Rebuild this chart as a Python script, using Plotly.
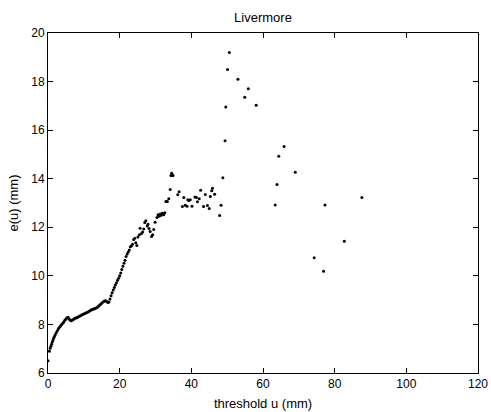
import plotly.graph_objects as go

# Mean residual life plot values (threshold u, e(u))
u_vals = [
    0.0, 0.4, 0.6, 0.8, 1.0, 1.2, 1.4, 1.6, 1.8, 2.0, 2.3, 2.6, 2.9, 3.2, 3.5, 3.8, 4.1, 4.4, 4.7, 5.0, 5.3, 5.6,
    5.9, 6.2, 6.5, 6.8, 7.1, 7.4, 7.7, 8.0, 8.3, 8.6, 8.9, 9.2, 9.5, 9.8, 10.1, 10.4, 10.7, 11.0, 11.3, 11.6, 11.9,
    12.2, 12.5, 12.8, 13.1, 13.4, 13.7, 14.0, 14.3, 14.6, 14.9, 15.2, 15.5, 15.8, 16.1, 16.4, 16.7, 17.0,
    17.3, 17.6, 17.9, 18.2, 18.5, 18.8, 19.1, 19.4, 19.7, 20.0, 20.3, 20.6, 20.9, 21.2, 21.5, 21.8, 22.1, 22.4,
    22.7, 23.0, 23.3, 23.6, 23.9, 24.2, 24.5, 24.8, 25.1, 25.5, 25.7, 26.1, 26.4, 26.7, 27.0, 27.3, 27.7, 27.9,
    28.2, 28.5, 28.9, 29.2, 29.5, 29.9, 30.4, 30.7, 31.0, 31.3, 31.6, 31.9, 32.3, 32.6, 32.9, 33.3, 33.7, 34.1,
    34.3, 34.5, 34.9, 36.2, 36.6, 37.5, 37.9, 38.3, 38.8, 39.0, 39.3, 39.7, 40.2, 41.0, 41.4, 41.7, 42.2, 42.6,
    43.4, 43.9, 44.5, 45.0, 45.3, 45.7, 45.9, 46.5, 47.9, 48.3, 48.8, 49.4, 49.6, 50.1, 50.6, 53.0, 54.9, 55.9,
    58.1, 63.4, 63.9, 64.4, 65.9, 69.0, 74.3, 76.9, 77.3, 82.7, 87.6,
]
e_vals = [
    6.50, 6.90, 7.02, 7.10, 7.18, 7.28, 7.36, 7.44, 7.50, 7.58, 7.66, 7.74, 7.82, 7.88, 7.94, 8.00, 8.05, 8.10, 8.17, 8.22, 8.27, 8.30,
    8.22, 8.17, 8.15, 8.18, 8.20, 8.24, 8.26, 8.28, 8.30, 8.33, 8.35, 8.37, 8.40, 8.42, 8.44, 8.46, 8.48, 8.50, 8.52, 8.55, 8.58,
    8.60, 8.62, 8.64, 8.66, 8.68, 8.70, 8.74, 8.78, 8.82, 8.86, 8.90, 8.94, 8.96, 8.98, 8.94, 8.90, 8.92,
    9.05, 9.18, 9.30, 9.42, 9.52, 9.62, 9.72, 9.82, 9.90, 10.00, 10.12, 10.26, 10.40, 10.52, 10.64, 10.80, 10.90, 10.98,
    11.06, 11.20, 11.24, 11.30, 11.50, 11.55, 11.36, 11.25, 11.60, 11.69, 11.96, 11.74, 11.81, 11.93, 12.20, 12.27, 12.05, 12.12,
    11.95, 11.83, 11.62, 11.69, 11.91, 12.21, 12.40, 12.52, 12.45, 12.55, 12.50, 12.58, 12.52, 12.60, 13.06, 13.06, 13.17, 13.56,
    14.13, 14.23, 14.13, 13.34, 13.46, 12.86, 13.23, 12.91, 12.87, 13.13, 13.10, 13.13, 12.87, 13.25, 13.23, 13.05, 13.17, 13.53,
    12.86, 13.35, 12.90, 12.77, 13.27, 13.50, 13.61, 13.36, 12.49, 12.91, 14.04, 15.56, 16.95, 18.50, 19.20, 18.10, 17.35, 17.70,
    17.02, 12.92, 13.76, 14.93, 15.33, 14.27, 10.75, 10.19, 12.92, 11.43, 13.23,
]

x_ticks = [0, 20, 40, 60, 80, 100, 120]
y_ticks = [6, 8, 10, 12, 14, 16, 18, 20]

FONT = dict(family="Liberation Sans, Arial", size=12, color="black")
TFONT = dict(family="Liberation Sans, Arial", size=13, color="black")

fig = go.Figure(go.Scatter(
    x=u_vals, y=e_vals, mode="markers",
    marker=dict(color="black", size=3, symbol="circle", line=dict(width=0)),
    hoverinfo="skip",
))

axis_common = dict(
    showline=True, linecolor="black", linewidth=1, mirror="ticks",
    ticks="inside", ticklen=5, tickcolor="black", tickwidth=1,
    showgrid=False, zeroline=False, automargin=False,
    tickfont=FONT,
)

fig.update_layout(
    width=491, height=412,
    margin=dict(l=48, r=13, t=33, b=39),
    paper_bgcolor="white", plot_bgcolor="white",
    showlegend=False,
    title=dict(text="Livermore", x=0.5, xanchor="center", y=0.9575, yanchor="middle",
               xref="paper", font=TFONT),
    font=FONT,
)
fig.update_xaxes(range=[0, 120], tickvals=x_ticks, ticktext=[str(v) for v in x_ticks],
                 title=dict(text="threshold u (mm)", standoff=8, font=TFONT),
                 **axis_common)
fig.update_yaxes(range=[6, 20], tickvals=y_ticks, ticktext=[str(v) for v in y_ticks],
                 title=dict(text="e(u) (mm)", standoff=9, font=TFONT),
                 **axis_common)

fig.write_html("out.html")
